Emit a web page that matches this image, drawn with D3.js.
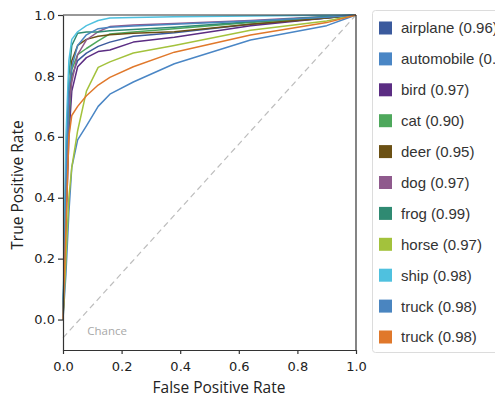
<!DOCTYPE html>
<html>
<head>
<meta charset="utf-8">
<script src="https://cdn.jsdelivr.net/npm/d3@7"></script>
<style>
  body { margin: 0; background: #fff; }
  svg { display: block; }
</style>
</head>
<body>
<div id="chart"></div>
<script>
// Class names and AUC labels shown in the legend
const classNames = ["airplane", "automobile", "bird", "cat", "deer", "dog", "frog", "horse", "ship", "truck", "truck"];
const aucLabels = ["0.96", "0.98", "0.97", "0.90", "0.95", "0.97", "0.99", "0.97", "0.98", "0.98", "0.98"];
const classColors = ["#3b5a9d", "#4a86c5", "#5b2d83", "#4ea85c", "#6b5014", "#8f5a8d", "#2f8a72", "#a3c23c", "#4fc1df", "#4a85c0", "#e0782b"];

// Shared false positive rate grid
const fprGrid = [0, 0.01, 0.02, 0.03, 0.05, 0.08, 0.12, 0.16, 0.24, 0.38, 0.64, 0.9, 1.0];

// True positive rate per class at the fpr grid
const tprAirplane   = [0, 0.35, 0.65, 0.80, 0.85, 0.875, 0.897, 0.911, 0.930, 0.942, 0.970, 0.990, 1];
const tprAutomobile = [0, 0.15, 0.35, 0.50, 0.59, 0.636, 0.700, 0.740, 0.780, 0.840, 0.918, 0.965, 1];
const tprBird       = [0, 0.30, 0.60, 0.75, 0.83, 0.860, 0.880, 0.885, 0.911, 0.927, 0.965, 0.990, 1];
const tprCat        = [0, 0.35, 0.65, 0.82, 0.87, 0.890, 0.915, 0.938, 0.944, 0.955, 0.975, 0.992, 1];
const tprDeer       = [0, 0.40, 0.70, 0.85, 0.90, 0.920, 0.930, 0.935, 0.940, 0.945, 0.970, 0.990, 1];
const tprDog        = [0, 0.40, 0.70, 0.78, 0.87, 0.918, 0.945, 0.962, 0.967, 0.972, 0.982, 0.995, 1];
const tprFrog       = [0, 0.50, 0.80, 0.90, 0.94, 0.944, 0.944, 0.948, 0.952, 0.960, 0.978, 0.995, 1];
const tprHorse      = [0, 0.20, 0.40, 0.50, 0.62, 0.750, 0.828, 0.846, 0.875, 0.900, 0.950, 0.980, 1];
const tprShip       = [0, 0.60, 0.85, 0.92, 0.945, 0.965, 0.982, 0.990, 0.992, 0.994, 0.997, 0.999, 1];
const tprTruck      = [0, 0.45, 0.75, 0.83, 0.90, 0.935, 0.955, 0.960, 0.964, 0.970, 0.980, 0.993, 1];
const tprTruck2     = [0, 0.30, 0.60, 0.67, 0.70, 0.735, 0.770, 0.795, 0.830, 0.878, 0.934, 0.975, 1];

const tprSeries = [tprAirplane, tprAutomobile, tprBird, tprCat, tprDeer, tprDog, tprFrog, tprHorse, tprShip, tprTruck, tprTruck2];

// Chance line endpoints
const chanceFpr = [0, 1];
const chanceTpr = [-0.06, 1];

const xTicks = [0, 0.2, 0.4, 0.6, 0.8, 1.0];
const yTicks = [0, 0.2, 0.4, 0.6, 0.8, 1.0];

const width = 495;
const height = 401;
const margin = { top: 15, right: 139, bottom: 51, left: 63 };
const innerWidth = width - margin.left - margin.right;
const innerHeight = height - margin.top - margin.bottom;

const xScale = d3.scaleLinear().domain([0, 1]).range([0, innerWidth]);
const yScale = d3.scaleLinear().domain([-0.1, 1]).range([innerHeight, 0]);

const svg = d3.select("#chart")
    .append("svg")
    .attr("width", width)
    .attr("height", height);

const innerChart = svg.append("g")
    .attr("transform", `translate(${margin.left},${margin.top})`);

// Chance diagonal
innerChart.append("line")
    .attr("x1", xScale(chanceFpr[0]))
    .attr("y1", yScale(chanceTpr[0]))
    .attr("x2", xScale(chanceFpr[1]))
    .attr("y2", yScale(chanceTpr[1]))
    .attr("stroke", "#bdbdbd")
    .attr("stroke-width", 1.2)
    .attr("stroke-dasharray", "6,4");

innerChart.append("text")
    .attr("x", xScale(0.083))
    .attr("y", yScale(-0.05))
    .attr("fill", "#a8a8a8")
    .style("font-family", "'Open Sans', sans-serif")
    .style("font-size", "11.5px")
    .text("Chance");

// ROC curves
const lineGenerator = d3.line()
    .x((d, i) => xScale(fprGrid[i]))
    .y(d => yScale(d));

innerChart.selectAll(".roc")
    .data(tprSeries)
    .join("path")
    .attr("class", "roc")
    .attr("d", lineGenerator)
    .attr("fill", "none")
    .attr("stroke", (d, i) => classColors[i])
    .attr("stroke-width", 1.5)
    .attr("stroke-linejoin", "round");

// Axes
const bottomAxis = d3.axisBottom(xScale).tickValues(xTicks).tickFormat(d3.format(".1f")).tickSize(4).tickSizeOuter(0);
const leftAxis = d3.axisLeft(yScale).tickValues(yTicks).tickFormat(d3.format(".1f")).tickSize(5).tickSizeOuter(0);

const xAxisG = innerChart.append("g")
    .attr("transform", `translate(0,${innerHeight})`)
    .call(bottomAxis);
const yAxisG = innerChart.append("g").call(leftAxis);

[xAxisG, yAxisG].forEach(g => {
    g.selectAll("path, line").attr("stroke", "#333").attr("stroke-width", 1.2);
    g.selectAll("text")
        .attr("fill", "#222")
        .style("font-family", "'DejaVu Sans', sans-serif")
        .style("font-size", "13px");
});
xAxisG.selectAll("text").attr("dy", "1.05em");

// Top and right frame
innerChart.append("line")
    .attr("x1", 0).attr("x2", innerWidth).attr("y1", 0).attr("y2", 0)
    .attr("stroke", "#333").attr("stroke-width", 1.2);
innerChart.append("line")
    .attr("x1", innerWidth).attr("x2", innerWidth).attr("y1", 0).attr("y2", innerHeight)
    .attr("stroke", "#333").attr("stroke-width", 1.2);

// Axis labels
svg.append("text")
    .attr("x", 219)
    .attr("y", 393)
    .attr("text-anchor", "middle")
    .attr("fill", "#222")
    .style("font-family", "'Open Sans', sans-serif")
    .style("font-size", "15.5px")
    .text("False Positive Rate");

svg.append("text")
    .attr("transform", `translate(23,185) rotate(-90)`)
    .attr("text-anchor", "middle")
    .attr("fill", "#222")
    .style("font-family", "'Open Sans', sans-serif")
    .style("font-size", "15.5px")
    .text("True Positive Rate");

// Legend
const legend = svg.append("g").attr("transform", "translate(372,10)");
legend.append("rect")
    .attr("x", 0.5).attr("y", 0.5)
    .attr("width", 160).attr("height", 342)
    .attr("rx", 3)
    .attr("fill", "#fff")
    .attr("stroke", "#dcdcdc");

const items = legend.selectAll(".item")
    .data(classNames)
    .join("g")
    .attr("class", "item")
    .attr("transform", (d, i) => `translate(7,${18 + i * 30.9})`);

items.append("rect")
    .attr("x", 0).attr("y", -6.5)
    .attr("width", 13).attr("height", 13)
    .attr("fill", (d, i) => classColors[i]);

items.append("text")
    .attr("x", 22)
    .attr("dy", "0.36em")
    .attr("fill", "#333")
    .style("font-family", "'Liberation Sans', Arial, sans-serif")
    .style("font-size", "15px")
    .text((d, i) => `${d} (${aucLabels[i]})`);
</script>
</body>
</html>
